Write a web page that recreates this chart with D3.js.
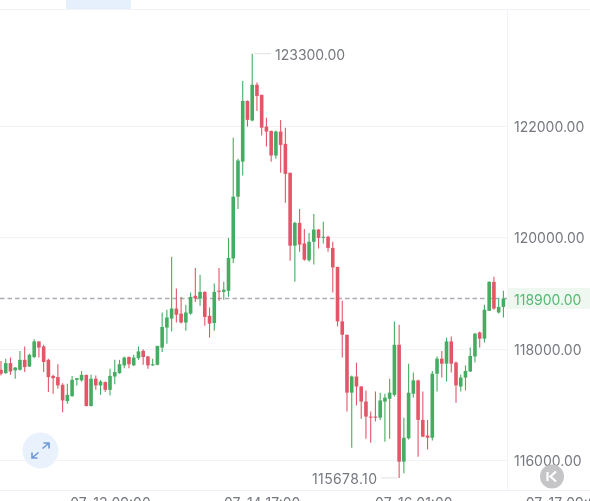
<!DOCTYPE html>
<html>
<head>
<meta charset="utf-8">
<script src="https://cdn.jsdelivr.net/npm/d3@7"></script>
<style>
html, body { margin: 0; padding: 0; background: #fff; overflow: hidden; }
svg { display: block; font-family: Inter, Roboto, sans-serif; filter: blur(0.35px); }
</style>
</head>
<body>
<svg></svg>
<script>
// hourly candles
var opens = [117620,117560,117740,117610,117620,117800,117680,117850,118130,118040,117800,117510,117490,117350,117060,117150,117440,117430,117530,116970,117460,117340,117400,117260,117500,117560,117700,117850,117700,117830,117960,117860,117700,117710,118020,118380,118540,118720,118630,118470,118630,118950,118900,119020,118590,118460,119040,119020,119040,119620,120730,121360,122450,122100,122740,122560,121990,121910,121470,121900,121680,121160,119850,120260,119890,119590,119920,120140,119990,120010,119810,119470,118490,118250,117210,117500,117320,117050,116780,116780,116760,117050,117100,117170,118070,115970,116390,117190,117430,116720,116440,116400,117550,117820,117730,118130,117750,117320,117480,117590,117860,118290,118180,118680,119200,118650,118750];
var closes = [117550,117740,117590,117660,117800,117670,117890,118130,118020,117760,117490,117470,117340,117070,117170,117440,117470,117530,116970,117460,117340,117410,117260,117510,117580,117720,117840,117720,117840,117950,117850,117700,117720,118050,118390,118560,118720,118610,118470,118650,118930,118900,119020,118570,118450,119020,119020,119060,119630,120730,121380,122450,122110,122740,122540,121970,121900,121470,121900,121660,121140,119850,120260,119870,119600,119920,120140,119990,120010,119810,119460,118490,118250,117210,117500,117320,117050,116780,116760,116760,117070,117120,117210,118070,115970,116400,117210,117430,116720,116420,116400,117550,117820,117730,118130,117730,117340,117480,117600,117870,118270,118180,118700,119200,118720,118750,118900];
var highs = [117780,117820,117840,117670,117960,118040,117910,118170,118130,118070,117820,117530,117720,117380,117370,117510,117470,117600,117530,117530,117520,117440,117410,117640,117800,117800,117860,117860,117890,118040,117990,117870,117820,118050,118650,118700,119650,119080,118930,118790,119010,119450,119330,119030,118740,119170,119450,119200,119990,121790,121410,122810,122460,123300,122780,122560,122150,121920,121920,122110,121970,121160,120280,120510,120150,120080,120420,120150,120280,120030,119920,119470,118860,118250,117520,117750,117330,117250,116870,117230,117210,117190,117460,118490,118430,116760,117730,117570,117440,117230,116720,117600,117860,117960,118200,118220,117770,117530,117700,118020,118280,118310,118790,119210,119290,118900,119040];
var lows = [117520,117550,117530,117460,117610,117580,117670,117830,117840,117580,117220,117190,117280,116860,117010,117130,117340,117410,116960,116960,117260,117170,117220,117160,117360,117550,117650,117650,117690,117800,117710,117640,117690,117700,117940,118090,118310,118470,118450,118320,118610,118840,118770,118410,118200,118320,118860,118880,118930,119540,120510,121110,121990,122080,122270,121830,121630,121360,121410,121160,120620,119580,119200,119740,119580,119560,119510,119800,119890,119740,119010,118400,117840,116870,116220,116980,116740,116380,116310,116690,116720,116330,116380,117140,115678.1,115760,116370,117120,116060,116410,116190,116350,117230,117480,117410,117570,117030,117230,117250,117580,117750,118020,118110,118680,118700,118630,118560];

var priceTicks = [116000, 118000, 120000, 122000];
var lastPrice = 118900;
var maxPrice = 123300;
var minPrice = 115678.1;
var timeTickIndex = [23, 55, 87, 119];
var timeTickLabels = ["07-13 09:00", "07-14 17:00", "07-16 01:00", "07-17 09:00"];

var width = 590, height = 501;
var plotRight = 507.5, plotTop = 9.5, plotBottom = 490.5;

var svg = d3.select("svg").attr("width", width).attr("height", height);

var x = d3.scaleLinear().domain([0, 106]).range([1, 503.4]);
var y = d3.scaleLinear().domain([116000, 122000]).range([460, 126]);

var green = "#45ad62", red = "#e25768", gridColor = "#f2f3f9", labelColor = "#75787f";

// blue tab on top
svg.append("rect").attr("x", 66).attr("y", 0).attr("width", 65).attr("height", 9).attr("fill", "#e6f0fd");

// frame lines
svg.append("line").attr("x1", 0).attr("x2", width).attr("y1", plotTop).attr("y2", plotTop).attr("stroke", gridColor);
svg.append("line").attr("x1", 0).attr("x2", width).attr("y1", plotBottom).attr("y2", plotBottom).attr("stroke", "#eef0f7");
svg.append("line").attr("x1", plotRight).attr("x2", plotRight).attr("y1", plotTop).attr("y2", plotBottom).attr("stroke", gridColor);

// grid
svg.selectAll(".grid").data(priceTicks).enter().append("line")
    .attr("class", "grid")
    .attr("x1", 0).attr("x2", plotRight)
    .attr("y1", d => Math.round(y(d)) + 0.5).attr("y2", d => Math.round(y(d)) + 0.5)
    .attr("stroke", gridColor);

// current price highlight
svg.append("rect").attr("x", plotRight + 0.5).attr("y", Math.round(y(lastPrice)) - 11)
    .attr("width", width - plotRight).attr("height", 21).attr("fill", "#eef8f1");

svg.append("line")
    .attr("x1", 0).attr("x2", plotRight)
    .attr("y1", Math.round(y(lastPrice)) - 0.5).attr("y2", Math.round(y(lastPrice)) - 0.5)
    .attr("stroke", "#a9acb3").attr("stroke-width", 1.3).attr("stroke-dasharray", "4.5 3");

// candles
var candles = d3.range(opens.length);
var isUp = i => closes[i] >= opens[i];

svg.selectAll(".wick").data(candles).enter().append("line")
    .attr("class", "wick")
    .attr("x1", i => x(i)).attr("x2", i => x(i))
    .attr("y1", i => y(highs[i])).attr("y2", i => y(lows[i]))
    .attr("stroke", i => isUp(i) ? green : red)
    .attr("stroke-width", 1.1);

svg.selectAll(".body").data(candles).enter().append("rect")
    .attr("class", "body")
    .attr("x", i => x(i) - 1.8)
    .attr("width", 3.6)
    .attr("y", i => Math.min(y(opens[i]), y(closes[i])))
    .attr("height", i => Math.max(1, Math.abs(y(opens[i]) - y(closes[i]))))
    .attr("fill", i => isUp(i) ? green : red);

// price axis
var yAxis = d3.axisRight(y).tickValues(priceTicks.concat([lastPrice])).tickSize(0).tickPadding(0)
    .tickFormat(d => d.toFixed(2));
var yAxisG = svg.append("g").attr("transform", "translate(514,1)").call(yAxis);
yAxisG.select(".domain").remove();
yAxisG.selectAll("text")
    .attr("font-family", "Inter, Roboto, sans-serif")
    .attr("font-size", 14)
    .attr("fill", d => d === lastPrice ? "#55b873" : labelColor);

// time axis, cut by the bottom of the page as in the reference
var xAxis = d3.axisBottom(x).tickValues(timeTickIndex).tickSize(0).tickPadding(0)
    .tickFormat((d, i) => timeTickLabels[i]);
var xAxisG = svg.append("g").attr("transform", "translate(0,498)").call(xAxis);
xAxisG.select(".domain").remove();
xAxisG.selectAll("text")
    .attr("font-family", "Inter, Roboto, sans-serif")
    .attr("font-size", 14)
    .attr("fill", labelColor);

// high and low labels
svg.append("line").attr("x1", x(53) + 2).attr("x2", x(53) + 19).attr("y1", y(maxPrice)).attr("y2", y(maxPrice)).attr("stroke", "#dfe0e3");
svg.append("text").attr("x", 275).attr("y", y(maxPrice) + 1).attr("dy", "0.35em")
    .attr("font-size", 14).attr("fill", labelColor).text(maxPrice.toFixed(2));
svg.append("line").attr("x1", x(84) - 18).attr("x2", x(84) - 2).attr("y1", y(minPrice)).attr("y2", y(minPrice)).attr("stroke", "#dfe0e3");
svg.append("text").attr("x", 377).attr("y", y(minPrice) + 1).attr("dy", "0.35em").attr("text-anchor", "end")
    .attr("font-size", 14).attr("textLength", 65).attr("fill", labelColor).text(minPrice.toFixed(2));

// expand button
var expand = svg.append("g").attr("transform", "translate(40.5,450.5)");
expand.append("circle").attr("r", 18).attr("fill", "#e9f1fc");
expand.append("path")
    .attr("d", "M2,-2 L8,-7 M3,-7.5 L8.5,-7.5 L8.5,-2 M-2,2 L-8,7 M-8.5,2 L-8.5,7.5 L-3,7.5")
    .attr("fill", "none").attr("stroke", "#6d97d6").attr("stroke-width", 1.6);

// back-to-latest button
var back = svg.append("g").attr("transform", "translate(552,476.5)");
back.append("circle").attr("r", 12).attr("fill", "#c5c5c8");
back.append("path").attr("d", "M-4.5,-4.5 V4.5 M4,-5 L-1.5,0 L4,5")
    .attr("fill", "none").attr("stroke", "#fff").attr("stroke-width", 2.2);
</script>
</body>
</html>
